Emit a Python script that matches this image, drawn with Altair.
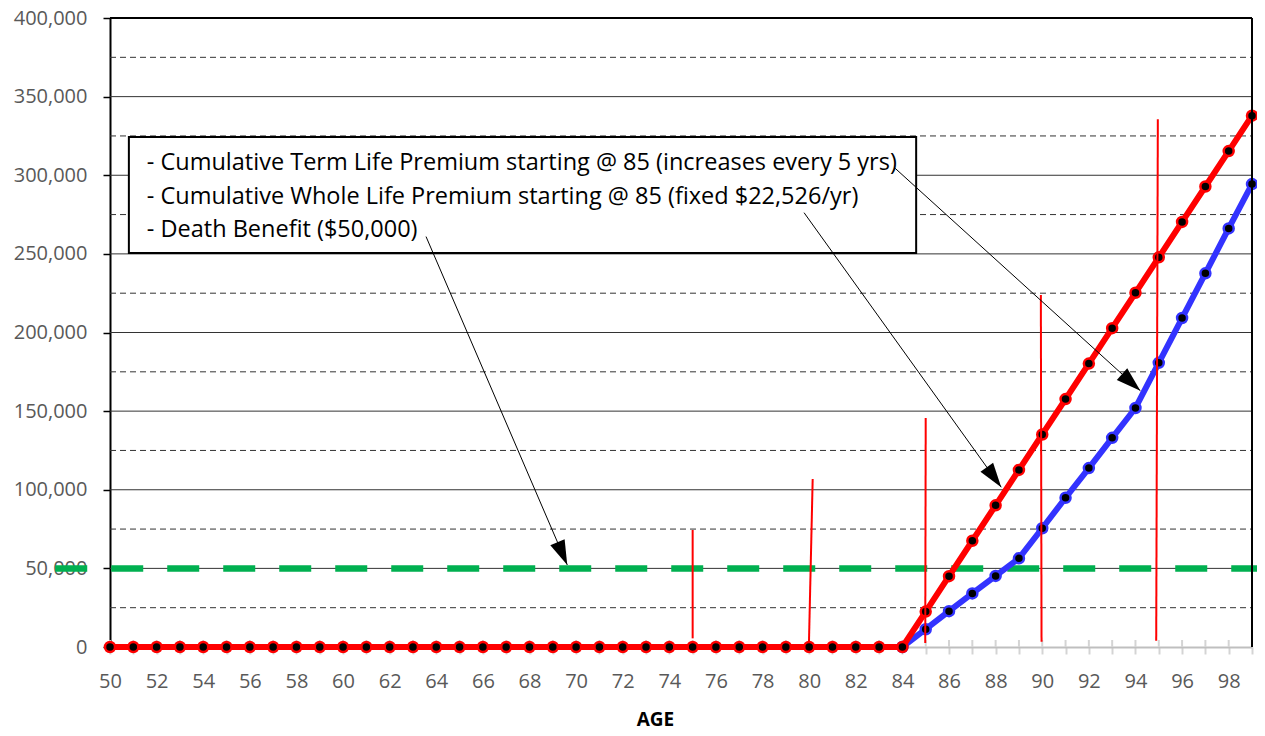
import altair as alt
import pandas as pd

# ---------------- data ----------------
ages = list(range(50, 100))
whole_life = [0] * 35 + [22526, 45052, 67578, 90104, 112630, 135156, 157682, 180208,
                         202734, 225260, 247786, 270312, 292838, 315364, 337890]
term_life = [0] * 35 + [11300, 22800, 34100, 45200, 56400, 75500, 94900, 113800,
                        133000, 152000, 180700, 209200, 237600, 266200, 294400]

death_x = [47.65, 99.4]
death_y = [50000, 50000]

y_solid = [0, 50000, 100000, 150000, 200000, 250000, 300000, 350000, 400000]
y_grid_solid = [50000, 100000, 150000, 200000, 250000, 300000, 350000]
y_grid_dashed = [25000, 75000, 125000, 175000, 225000, 275000, 325000, 375000]

# red vertical markers at 75/80/85/90/95
vm_x_top = [75.0, 80.15, 85.0, 89.94, 94.96]
vm_x_bot = [75.0, 79.99, 84.98, 89.97, 94.89]
vm_y_top = [74400, 106800, 145600, 223900, 335600]
vm_y_bot = [5500, 2500, 2500, 3400, 4000]

# annotation box
box_x = [50.81, 84.59]
box_y = [250500, 324300]
note_lines = [
    "- Cumulative Term Life Premium starting @ 85 (increases every 5 yrs)",
    "- Cumulative Whole Life Premium starting @ 85 (fixed $22,526/yr)",
    "- Death Benefit ($50,000)",
]
note_x = [51.58, 51.58, 51.58]
note_y = [307800, 286200, 265200]

# arrows (from the box to the series)
arrow_x0 = [63.56, 79.78, 83.69]
arrow_y0 = [261000, 276200, 304400]
arrow_x1 = [69.62, 88.24, 94.21]
arrow_y1 = [52200, 101600, 163000]
arrow_angle = [156.6, 144.2, 132.0]

# ---------------- chart ----------------
W, H = 1142, 629
FONT = "Open Sans"
LABEL_GRAY = "#595959"

xscale = alt.Scale(domain=[50, 99], nice=False, zero=False)
yscale = alt.Scale(domain=[0, 400000], nice=False)

xaxis = alt.Axis(values=ages, format="d",
                 labelExpr="datum.value % 2 == 0 ? datum.label : ''",
                 labelOverlap=False, labelFlush=False, labelBound=False,
                 domainColor="#BFBFBF", domainWidth=2,
                 tickColor="#D4D4D4", tickWidth=2, tickSize=7,
                 labelFont=FONT, labelFontSize=20, labelColor=LABEL_GRAY, labelPadding=17,
                 title="AGE", titleFont=FONT, titleFontSize=19, titleFontWeight="bold",
                 titleColor="black", titleX=545, titleY=78, titleBaseline="alphabetic",
                 titleAlign="center", grid=False)
yaxis = alt.Axis(values=y_solid, format=",d", grid=False,
                 domainColor="black", domainWidth=2,
                 tickColor="black", tickWidth=1.5, tickSize=7,
                 labelFont=FONT, labelFontSize=20, labelColor=LABEL_GRAY, labelPadding=16,
                 title=None)

X = alt.X("x:Q", scale=xscale, axis=xaxis)
Y = alt.Y("y:Q", scale=yscale, axis=yaxis)

series_red = pd.DataFrame({"x": ages, "y": whole_life})
series_blue = pd.DataFrame({"x": ages, "y": term_life})
death_df = pd.DataFrame({"x": death_x, "y": death_y})
grid_s = pd.DataFrame({"y": y_grid_solid, "x": [50] * len(y_grid_solid), "x2": [99] * len(y_grid_solid)})
grid_d = pd.DataFrame({"y": y_grid_dashed, "x": [50] * len(y_grid_dashed), "x2": [99] * len(y_grid_dashed)})
stubs = pd.DataFrame({"x": ages, "y": [0] * len(ages)})
vm_df = pd.DataFrame({"x": vm_x_top, "y": vm_y_top, "x2": vm_x_bot, "y2": vm_y_bot})
box_df = pd.DataFrame({"x": [box_x[0]], "x2": [box_x[1]], "y": [box_y[0]], "y2": [box_y[1]]})
note_df = pd.DataFrame({"x": note_x, "y": note_y, "t": note_lines})
arrow_df = pd.DataFrame({"x": arrow_x0, "y": arrow_y0, "x2": arrow_x1, "y2": arrow_y1})
head_df = pd.DataFrame({"x": arrow_x1, "y": arrow_y1, "a": arrow_angle})
top_df = pd.DataFrame({"x": [50], "x2": [99], "y": [400000]})
right_df = pd.DataFrame({"x": [99], "y": [0], "y2": [400000]})

grid_dashed = alt.Chart(grid_d).mark_rule(color="#333333", strokeWidth=1, strokeDash=[6, 4]).encode(
    x=X, x2="x2:Q", y=Y)
grid_solid = alt.Chart(grid_s).mark_rule(color="#333333", strokeWidth=1).encode(
    x=X, x2="x2:Q", y=Y)
tick_stubs = alt.Chart(stubs).mark_rule(color="#D4D4D4", strokeWidth=2).encode(
    x=X, y=Y, y2=alt.value(H - 7))

death_line = alt.Chart(death_df).mark_line(color="#00B050", strokeWidth=6.5, strokeDash=[32, 24],
                                           clip=False).encode(x=X, y=Y)

blue_line = alt.Chart(series_blue).mark_line(color="#3333FF", strokeWidth=6).encode(x=X, y=Y)
blue_pts = alt.Chart(series_blue[series_blue["x"] >= 84]).mark_point(
    filled=True, fill="black", stroke="#3333FF", strokeWidth=2.5, size=100, opacity=1).encode(x=X, y=Y)
red_line = alt.Chart(series_red).mark_line(color="#FF0000", strokeWidth=6).encode(x=X, y=Y)
red_pts = alt.Chart(series_red).mark_point(
    filled=True, fill="black", stroke="#FF0000", strokeWidth=2.5, size=100, opacity=1).encode(x=X, y=Y)

vmarks = alt.Chart(vm_df).mark_rule(color="#FF0000", strokeWidth=2).encode(
    x=X, y=Y, x2="x2:Q", y2="y2:Q")

box = alt.Chart(box_df).mark_rect(fill="white", stroke="black", strokeWidth=2).encode(
    x=X, x2="x2:Q", y=Y, y2="y2:Q")
notes = alt.Chart(note_df).mark_text(align="left", baseline="middle", font=FONT,
                                     fontSize=23.5, color="black").encode(x=X, y=Y, text="t:N")

arrows = alt.Chart(arrow_df).mark_rule(color="black", strokeWidth=1).encode(
    x=X, y=Y, x2="x2:Q", y2="y2:Q")
heads = alt.Chart(head_df).mark_point(
    shape="M0,0L0.6,1.9L-0.6,1.9Z", filled=True, fill="black", strokeWidth=0,
    size=676, opacity=1).encode(x=X, y=Y, angle=alt.Angle("a:Q", scale=None))

top_border = alt.Chart(top_df).mark_rule(color="black", strokeWidth=2).encode(x=X, x2="x2:Q", y=Y)
right_border = alt.Chart(right_df).mark_rule(color="black", strokeWidth=2).encode(x=X, y=Y, y2="y2:Q")

chart = alt.layer(
    grid_dashed, grid_solid, tick_stubs, death_line,
    blue_line, blue_pts, red_line, red_pts, vmarks,
    box, notes, arrows, heads, top_border, right_border,
).properties(
    width=W, height=H,
    autosize=alt.AutoSizeParams(type="none"),
    padding={"left": 102, "top": 10, "right": 5, "bottom": 79},
    background="white",
).configure_view(stroke=None)

chart.save("out.html", embed_options={"renderer": "svg", "actions": False})
